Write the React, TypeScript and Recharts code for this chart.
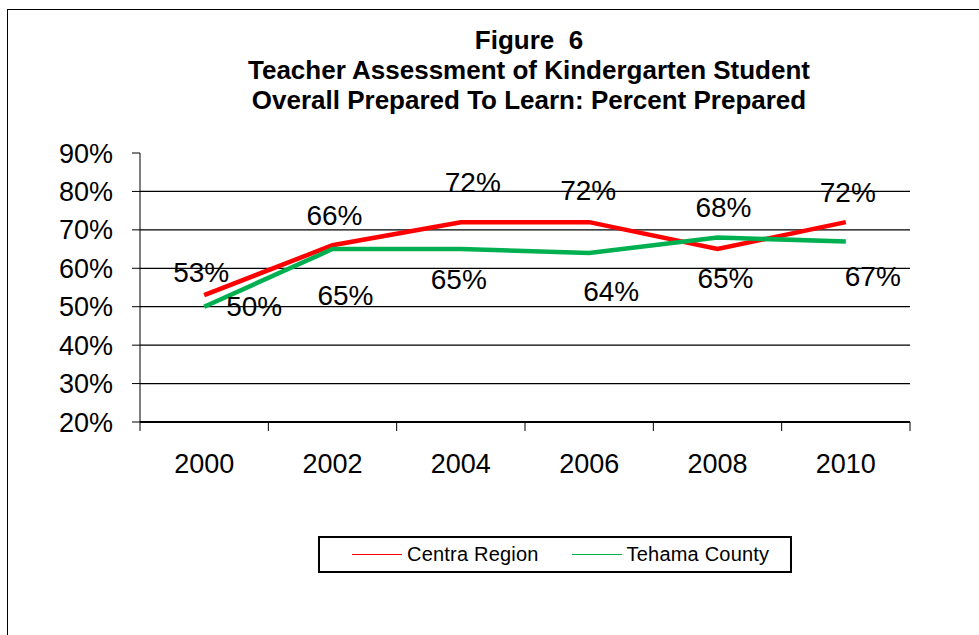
import React from "react";
import {
    CartesianGrid,
    LabelList,
    Line,
    LineChart,
    XAxis,
    YAxis,
} from "recharts";

const years = ["2000", "2002", "2004", "2006", "2008", "2010"];
const centraRegion = [53, 66, 72, 72, 65, 72];
const tehamaCounty = [50, 65, 65, 64, 68, 67];
const centraLabels = ["53%", "66%", "72%", "72%", "68%", "72%"];
const tehamaLabels = ["50%", "65%", "65%", "64%", "65%", "67%"];
const yTicks = [20, 30, 40, 50, 60, 70, 80, 90];
const gridValues = [30, 40, 50, 60, 70, 80];

const data = years.map((year, i) => ({
    year,
    centra: centraRegion[i],
    tehama: tehamaCounty[i],
}));

// label nudges (px) relative to each point, like the hand-placed Excel labels
const centraOffsets = [[-3, -23], [2, -30], [12, -40], [-1, -32], [6, -42], [2, -30]];
const tehamaOffsets = [[50, 0], [13, 46], [-2, 30], [22, 39], [8, 41], [27, 35]];

const FONT = '"Liberation Sans", Arial, sans-serif';
const W = 979;
const H = 635;
const MARGIN = { top: 153, right: 69, bottom: 153, left: 0 };
const Y_AXIS_W = 140;
const BAND = (W - MARGIN.left - MARGIN.right - Y_AXIS_W) / years.length;

const makeLabel = (labels: string[], offsets: number[][]) => (props: any) => {
    const { x, y, index } = props;
    const [dx, dy] = offsets[index];
    return (
        <text
            x={x + dx}
            y={y + dy}
            textAnchor="middle"
            dominantBaseline="central"
            fontSize={28}
            fontFamily={FONT}
            fill="#000"
        >
            {labels[index]}
        </text>
    );
};

const YearTick = (props: any) => {
    const { x, y, payload, index } = props;
    const left = x - BAND / 2;
    return (
        <g>
            <line x1={left} y1={y} x2={left} y2={y + 9} stroke="#000" strokeWidth={1} />
            {index === years.length - 1 && (
                <line x1={x + BAND / 2} y1={y} x2={x + BAND / 2} y2={y + 9} stroke="#000" strokeWidth={1} />
            )}
            <text x={x} y={y + 51} textAnchor="middle" fontSize={27} fontFamily={FONT} fill="#000">
                {payload.value}
            </text>
        </g>
    );
};

const LegendItem = ({ color, label }: { color: string; label: string }) => (
    <div style={{ display: "flex", alignItems: "center" }}>
        <div style={{ width: 50, height: 1, background: color, marginRight: 5 }} />
        <span style={{ fontSize: 20, letterSpacing: 0.2 }}>{label}</span>
    </div>
);

export default function App() {
    return (
        <div
            style={{
                position: "absolute",
                top: 0,
                left: 0,
                width: W,
                height: H,
                background: "#fff",
                fontFamily: FONT,
                overflow: "hidden",
            }}
        >
            {/* chart frame, only top and left edges visible */}
            <div
                style={{
                    position: "absolute",
                    left: 7,
                    top: 9,
                    right: -10,
                    bottom: -10,
                    borderLeft: "1px solid #000",
                    borderTop: "1px solid #000",
                }}
            />
            <div
                style={{
                    position: "absolute",
                    left: 229,
                    top: 25,
                    width: 600,
                    textAlign: "center",
                    fontWeight: "bold",
                    fontSize: 26,
                    lineHeight: "30px",
                    color: "#000",
                }}
            >
                <div>Figure&nbsp;&nbsp;6</div>
                <div>Teacher Assessment of Kindergarten Student</div>
                <div>Overall Prepared To Learn: Percent Prepared</div>
            </div>
            <div style={{ position: "absolute", left: 0, top: 0 }}>
                <LineChart width={W} height={H} data={data} margin={MARGIN}>
                    <CartesianGrid
                        vertical={false}
                        horizontalValues={gridValues}
                        stroke="#000"
                        strokeWidth={1.2}
                    />
                    <XAxis
                        dataKey="year"
                        scale="band"
                        height={60}
                        axisLine={{ stroke: "#000", strokeWidth: 2 }}
                        tickLine={false}
                        tickSize={0}
                        tickMargin={0}
                        interval={0}
                        tick={<YearTick />}
                    />
                    <YAxis
                        width={Y_AXIS_W}
                        domain={[20, 90]}
                        ticks={yTicks}
                        interval={0}
                        tickFormatter={(v) => `${v}%`}
                        axisLine={{ stroke: "#000" }}
                        tickLine={{ stroke: "#000" }}
                        tickSize={8}
                        tickMargin={19}
                        tick={{ fontSize: 27, fill: "#000", fontFamily: FONT }}
                    />
                    <Line
                        type="linear"
                        dataKey="centra"
                        stroke="#FF0000"
                        strokeWidth={4.5}
                        dot={false}
                        isAnimationActive={false}
                    >
                        <LabelList dataKey="centra" content={makeLabel(centraLabels, centraOffsets)} />
                    </Line>
                    <Line
                        type="linear"
                        dataKey="tehama"
                        stroke="#00B050"
                        strokeWidth={4.5}
                        dot={false}
                        isAnimationActive={false}
                    >
                        <LabelList dataKey="tehama" content={makeLabel(tehamaLabels, tehamaOffsets)} />
                    </Line>
                </LineChart>
            </div>
            <div
                style={{
                    position: "absolute",
                    left: 318,
                    top: 536,
                    width: 474,
                    height: 37,
                    boxSizing: "border-box",
                    border: "2px solid #000",
                    display: "flex",
                    alignItems: "center",
                    paddingLeft: 32,
                    gap: 33,
                    color: "#000",
                }}
            >
                <LegendItem color="#FF0000" label="Centra Region" />
                <LegendItem color="#00B050" label="Tehama County" />
            </div>
        </div>
    );
}
